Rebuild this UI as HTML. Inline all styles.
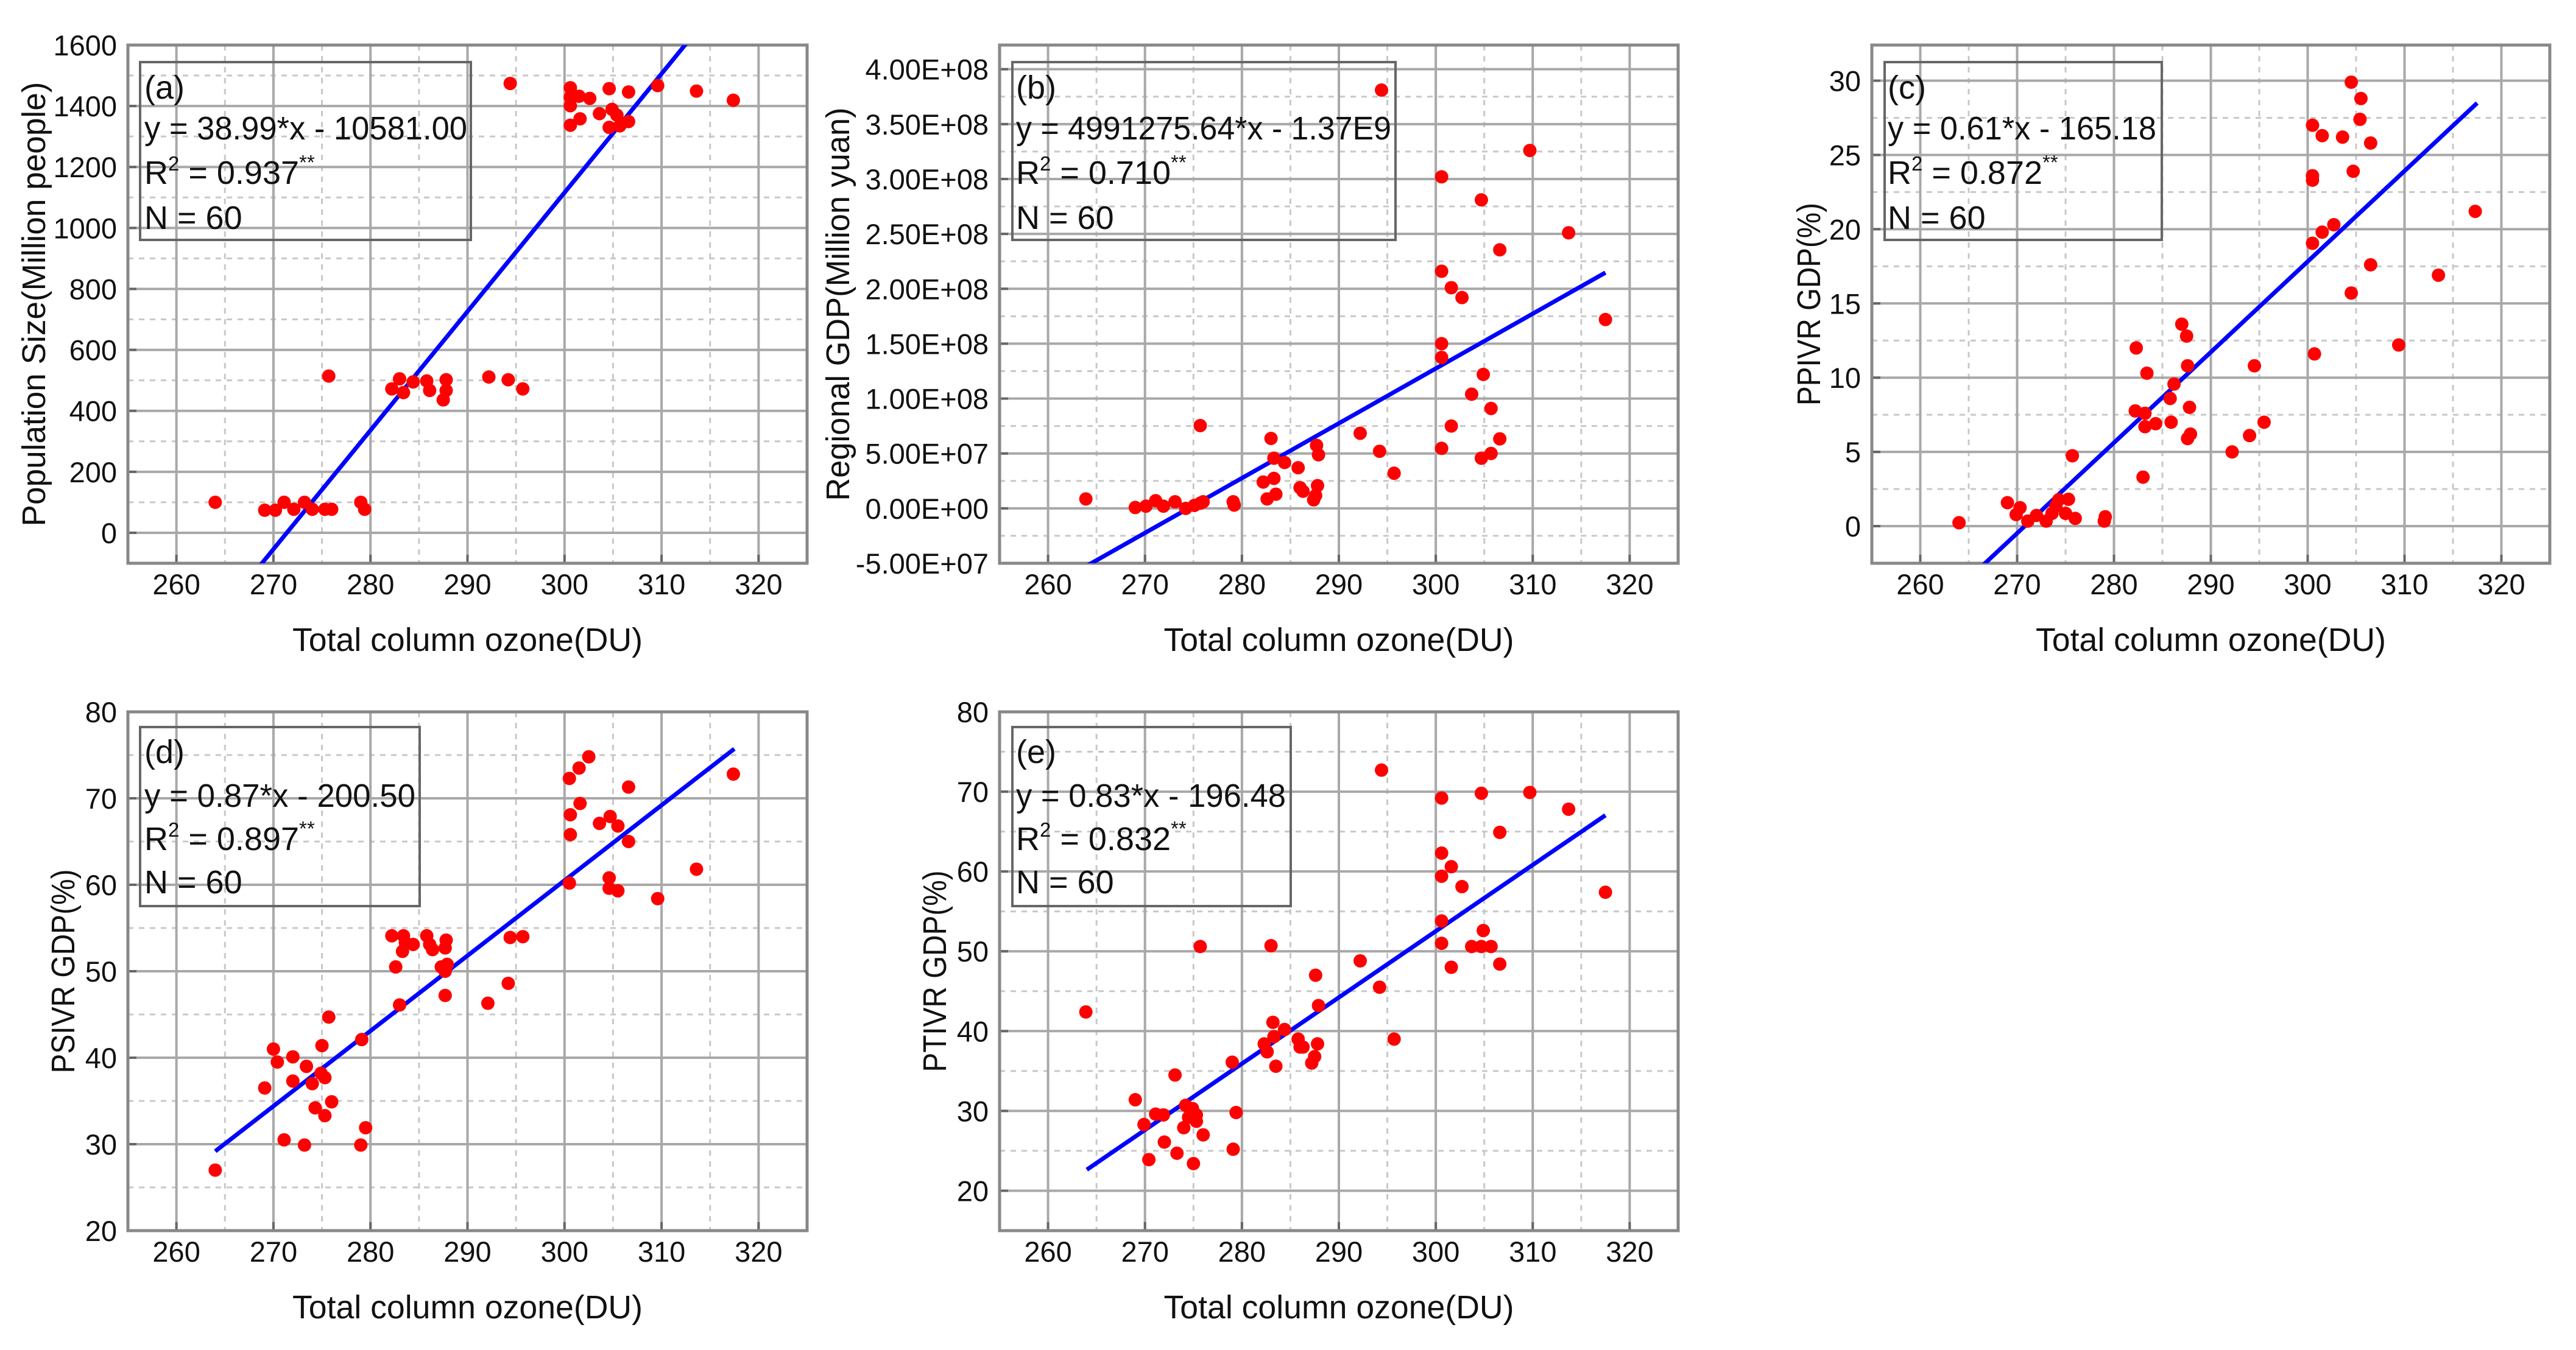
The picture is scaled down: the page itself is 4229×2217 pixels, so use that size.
<!DOCTYPE html>
<html><head><meta charset="utf-8"><style>
html,body{margin:0;padding:0;background:#fff;}
svg{display:block;font-family:"Liberation Sans",sans-serif;}
</style></head><body>
<svg id="fig" width="4229" height="2217" viewBox="0 0 4229 2217" xmlns="http://www.w3.org/2000/svg"></svg>
<script>
// ---- data ----
const xA=[264.0,269.1,270.2,271.1,272.1,273.2,274.0,275.3,276.0,275.7,279.0,279.4,282.2,283.0,283.4,284.4,285.8,286.1,287.5,287.8,287.8,292.2,294.2,295.7,294.4,300.6,300.6,300.6,300.6,301.5,302.6,301.6,303.6,304.6,304.9,305.4,304.6,305.7,306.6,306.6,309.6,313.6,317.4];
const yA=[100,74,74,100,77,100,77,77,77,514,100,77,472,505,460,495,498,467,436,502,467,511,502,472,1474,1460,1429,1401,1337,1432,1425,1358,1375,1457,1389,1370,1330,1335,1349,1446,1467,1449,1419];
const xB=[263.9,269.0,270.1,271.1,271.9,273.1,274.2,275.1,275.7,276.0,275.7,279.1,279.2,282.2,282.6,283.0,283.3,283.3,283.5,284.4,285.8,286.0,286.3,287.4,287.6,287.7,287.9,287.8,292.2,294.2,294.4,295.7,300.6,300.6,300.6,300.6,300.6,301.6,302.7,301.6,303.7,304.7,304.9,304.7,305.7,305.7,306.6,306.6,309.7,313.7,317.5];
const yB=[0.86,0.08,0.2,0.7,0.2,0.6,0,0.27,0.47,0.6,7.54,0.6,0.3,2.4,0.86,6.37,4.57,2.73,1.29,4.18,3.7,1.88,1.56,0.78,1.17,5.74,4.88,2.07,6.84,5.2,38.1,3.2,30.2,21.6,15.0,13.75,5.47,20.1,19.2,7.5,10.4,28.1,12.2,4.57,9.1,5.0,23.55,6.33,32.6,25.1,17.2].map(v=>v*1e7);
const xC=[264.0,269.0,269.9,270.3,271.1,272.0,273.0,273.6,274.0,274.3,275.0,275.3,276.0,275.7,279.0,279.1,282.3,282.2,283.2,283.2,283.0,283.4,284.3,285.8,285.9,286.2,287.0,287.5,287.6,287.8,287.6,287.9,292.2,294.0,294.5,295.5,300.5,300.5,300.5,300.5,300.7,301.5,301.5,302.7,303.6,304.5,304.7,304.5,305.5,305.4,306.5,306.5,309.4,313.5,317.3];
const yC=[0.23,1.58,0.78,1.24,0.34,0.72,0.34,0.86,1.35,1.78,0.86,1.81,0.52,4.74,0.34,0.63,12.0,7.76,7.6,6.7,3.3,10.3,6.9,8.6,7.0,9.57,13.6,12.8,10.8,8.0,5.9,6.2,5.0,6.1,10.8,7.0,27.0,23.6,23.3,19.05,11.6,26.3,19.8,20.3,26.2,29.9,23.9,15.7,28.8,27.4,25.8,17.6,12.2,16.9,21.2];
const xD=[264.0,269.1,270.0,270.4,271.1,272.0,272.0,273.2,273.4,274.0,274.3,274.9,275.0,275.3,275.3,275.7,276.0,279.0,279.1,279.5,282.2,282.6,283.0,283.3,283.4,283.6,284.4,285.8,286.1,286.4,287.3,287.7,287.8,287.7,287.9,287.7,292.1,294.2,294.4,295.7,300.5,300.6,300.6,300.5,301.5,301.6,302.5,303.6,304.7,304.6,304.6,305.5,305.5,306.6,306.6,309.6,313.6,317.4];
const yD=[27.0,36.5,41.0,39.5,30.5,40.1,37.3,29.9,39.0,37.0,34.2,38.2,41.4,37.7,33.3,44.7,34.9,29.9,42.1,31.9,54.1,50.5,46.1,52.3,54.1,53.3,53.1,54.1,53.1,52.5,50.5,50.0,53.6,52.7,50.8,47.2,46.3,48.6,53.9,54.0,72.3,68.1,65.8,60.2,73.5,69.4,74.8,67.1,67.9,60.8,59.6,59.3,66.8,71.3,65.0,58.4,61.8,72.8];
const xE=[263.9,269.0,269.9,270.4,271.1,271.9,272.0,273.1,273.3,274.0,274.2,274.5,274.9,275.0,275.3,275.3,276.0,275.7,279.0,279.4,279.1,282.3,282.6,283.0,283.2,283.3,283.5,284.4,285.8,286.0,286.3,287.2,287.5,287.6,287.8,287.9,292.2,294.2,294.4,295.7,300.6,300.6,300.6,300.6,300.6,301.6,301.6,302.7,303.7,304.7,304.7,304.9,305.7,306.6,306.6,309.7,313.7,317.5];
const yE=[42.4,31.4,28.3,23.9,29.6,29.5,26.1,34.5,24.7,27.9,30.7,29.2,30.3,23.4,29.5,28.7,27.0,50.6,36.1,29.8,25.2,38.4,37.4,50.7,41.1,39.3,35.6,40.2,39.0,38.0,38.0,36.0,36.8,47.0,38.4,43.2,48.8,45.5,72.7,39.0,69.2,62.3,59.4,53.8,51.0,60.6,48.0,58.1,50.6,69.8,50.6,52.6,50.6,64.9,48.4,69.9,67.8,57.4];
const xTicks=[260,270,280,290,300,310,320];
const ticksA=[0,200,400,600,800,1000,1200,1400,1600];
const ticksB=[-5e7,0,5e7,1e8,1.5e8,2e8,2.5e8,3e8,3.5e8,4e8];
const ticksC=[0,5,10,15,20,25,30];
const ticksD=[20,30,40,50,60,70,80];
const ticksE=[20,30,40,50,60,70,80];
const fits=[[38.99,-10581.00],[4991275.64,-1.37e9],[0.61,-165.18],[0.87,-200.50],[0.83,-196.48]];
const r2s=["0.937","0.710","0.872","0.897","0.832"];
const eqs=["y = 38.99*x - 10581.00","y = 4991275.64*x - 1.37E9","y = 0.61*x - 165.18","y = 0.87*x - 200.50","y = 0.83*x - 196.48"];

const NS="http://www.w3.org/2000/svg";
const svg=document.getElementById('fig');
function mk(tag,attrs,parent){const e=document.createElementNS(NS,tag);for(const k in attrs)e.setAttribute(k,attrs[k]);(parent||svg).appendChild(e);return e;}
function fmtB(v){if(v===0)return "0.00E+00";const e=Math.floor(Math.log10(Math.abs(v))+1e-9);const m=v/Math.pow(10,e);return m.toFixed(2)+"E+"+String(e).padStart(2,"0");}

const panels=[
 {id:'a',L:210,R:1325,T:74,B:925,ymin:-100,ymax:1600,ticks:ticksA,minor:100,xs:xA,ys:yA,fmt:v=>String(v),lab:237,ytitle:"Population Size(Million people)",ytx:55,ytlen:730,box:[230,102,773,394],lines:[162,229,302,376],r2sp:" = ",eqlen:530},
 {id:'b',L:1641,R:2755,T:74,B:925,ymin:-5e7,ymax:4.22e8,ticks:ticksB,minor:2.5e7,xs:xB,ys:yB,fmt:fmtB,lab:1668,ytitle:"Regional GDP(Million yuan)",ytx:1375,ytlen:646,box:[1662,102,2291,394],lines:[162,229,302,376],r2sp:" = ",eqlen:616},
 {id:'c',L:3073,R:4186,T:74,B:925,ymin:-2.5,ymax:32.4,ticks:ticksC,minor:2.5,xs:xC,ys:yC,fmt:v=>String(v),lab:3099,ytitle:"PPIVR GDP(%)",ytx:2969,ytlen:333,box:[3094,102,3549,394],lines:[162,229,302,376],r2sp:"  = ",eqlen:441},
 {id:'d',L:210,R:1325,T:1169,B:2021,ymin:20,ymax:80,ticks:ticksD,minor:5,xs:xD,ys:yD,fmt:v=>String(v),lab:237,ytitle:"PSIVR GDP(%)",ytx:103,ytlen:335,box:[230,1194,689,1488],lines:[1253,1325,1396,1467],r2sp:"  = ",eqlen:445},
 {id:'e',L:1641,R:2755,T:1169,B:2021,ymin:15,ymax:80,ticks:ticksE,minor:5,xs:xE,ys:yE,fmt:v=>String(v),lab:1668,ytitle:"PTIVR GDP(%)",ytx:1534,ytlen:331,box:[1662,1194,2119,1488],lines:[1253,1325,1396,1467],r2sp:"  = ",eqlen:443}
];

panels.forEach((p,i)=>{
 const g=mk('g',{});
 
 
 const xmin=255,xmax=325;
 const sx=v=>p.L+(v-xmin)/(xmax-xmin)*(p.R-p.L);
 const sy=v=>p.B-(v-p.ymin)/(p.ymax-p.ymin)*(p.B-p.T);
 const clip=mk('clipPath',{id:'clip'+p.id},g);
 mk('rect',{x:p.L,y:p.T,width:p.R-p.L,height:p.B-p.T},clip);
 for(let v=265;v<325;v+=10){const l=mk('line',{x1:sx(v),x2:sx(v),y1:p.T,y2:p.B,stroke:'#c8c8c8','stroke-width':3,'stroke-dasharray':'9,9'},g);}
 for(let k=0;k<p.ticks.length;k++){const v=p.ticks[k]+p.minor;if(v<p.ymax){const l=mk('line',{x1:p.L,x2:p.R,y1:sy(v),y2:sy(v),stroke:'#c8c8c8','stroke-width':3,'stroke-dasharray':'9,9'},g);}
  const v2=p.ticks[0]-p.minor;if(k===0&&v2>p.ymin){mk('line',{x1:p.L,x2:p.R,y1:sy(v2),y2:sy(v2),stroke:'#c8c8c8','stroke-width':3,'stroke-dasharray':'9,9'},g);}}
 xTicks.forEach(v=>{const l=mk('line',{x1:sx(v),x2:sx(v),y1:p.T,y2:p.B,stroke:'#a8a8a8','stroke-width':4},g);
  const t=mk('text',{x:sx(v),y:p.B+51,'font-size':47,'text-anchor':'middle',fill:'#111'},g);t.textContent=v;
  mk('line',{x1:sx(v),x2:sx(v),y1:p.B,y2:p.B-14,stroke:'#666','stroke-width':4},g);});
 p.ticks.forEach(v=>{const l=mk('line',{x1:p.L,x2:p.R,y1:sy(v),y2:sy(v),stroke:'#a8a8a8','stroke-width':4},g);
  const t=mk('text',{x:p.L-18,y:sy(v)+17,'font-size':47,'text-anchor':'end',fill:'#111'},g);t.textContent=p.fmt(v);
  mk('line',{x1:p.L,x2:p.L+14,y1:sy(v),y2:sy(v),stroke:'#666','stroke-width':4},g);});
 const fr=mk('rect',{x:p.L,y:p.T,width:p.R-p.L,height:p.B-p.T,fill:'none',stroke:'#888','stroke-width':5},g);
 
 const bx=mk('rect',{x:p.box[0],y:p.box[1],width:p.box[2]-p.box[0],height:p.box[3]-p.box[1],fill:'none',stroke:'#666','stroke-width':4},g);
 
 const t1=mk('text',{x:p.lab,y:p.lines[0],'font-size':54,fill:'#111'},g);t1.textContent='('+p.id+')';
 const t2=mk('text',{x:p.lab,y:p.lines[1],'font-size':54,fill:'#111',textLength:p.eqlen,lengthAdjust:'spacingAndGlyphs'},g);t2.textContent=eqs[i];
 const t3=mk('text',{x:p.lab,y:p.lines[2],'font-size':54,fill:'#111','xml:space':'preserve'},g);
 
 const s1=mk('tspan',{},t3);s1.textContent='R';
 const s2=mk('tspan',{'font-size':33,dy:-22},t3);s2.textContent='2';
 const s3=mk('tspan',{dy:22},t3);s3.textContent=p.r2sp+r2s[i];
 const s4=mk('tspan',{'font-size':33,dy:-24},t3);s4.textContent='**';
 const t4=mk('text',{x:p.lab,y:p.lines[3],'font-size':54,fill:'#111'},g);t4.textContent='N = 60';
 const [m,c]=fits[i];
 const fl=mk('line',{x1:sx(264),y1:sy(m*264+c),x2:sx(317.5),y2:sy(m*317.5+c),stroke:'#0000ff','stroke-width':7,'clip-path':'url(#clip'+p.id+')'},g);
 
 for(let k=0;k<p.xs.length;k++){const d=mk('circle',{cx:sx(p.xs[k]),cy:sy(p.ys[k]),r:11,fill:'#ff0000'},g);
  
  }
 const xt=mk('text',{x:(p.L+p.R)/2,y:p.B+144,'font-size':54,'text-anchor':'middle',fill:'#111',textLength:575,lengthAdjust:'spacingAndGlyphs'},g);
 xt.textContent='Total column ozone(DU)';
 const cy=(p.T+p.B)/2;
 const yt=mk('text',{x:0,y:0,'font-size':54,'text-anchor':'middle',fill:'#111',transform:'translate('+(p.ytx+19)+','+cy+') rotate(-90)',textLength:p.ytlen,lengthAdjust:'spacingAndGlyphs'},g);
 yt.textContent=p.ytitle;
});
</script>
</body></html>
